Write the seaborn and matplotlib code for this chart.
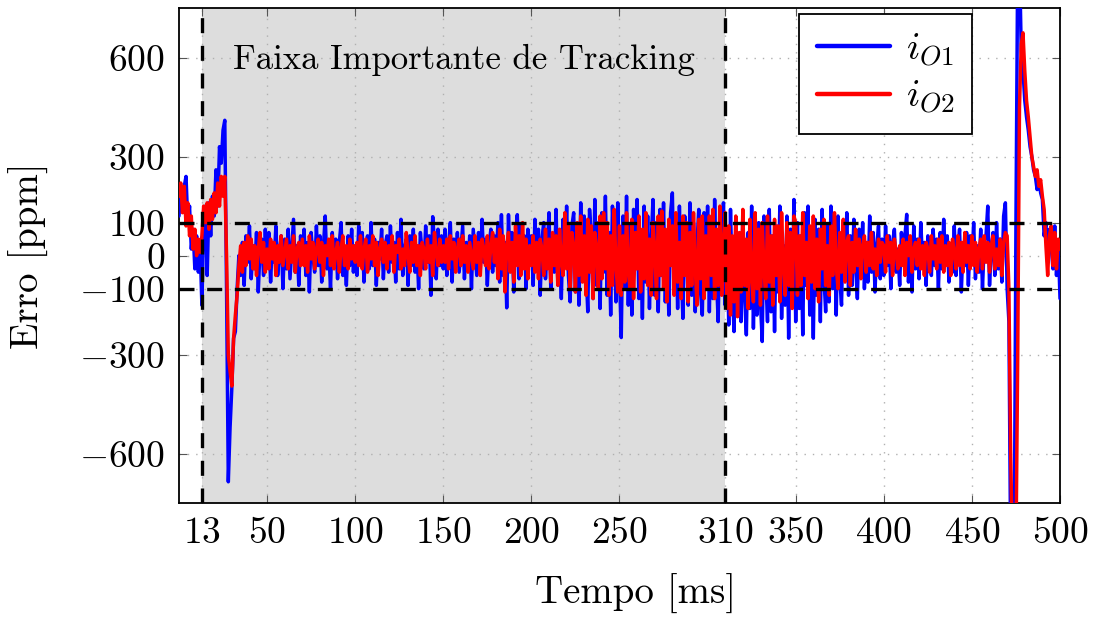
import numpy as np
import pandas as pd
import matplotlib
matplotlib.use("Agg")
import matplotlib.pyplot as plt
import seaborn as sns
from matplotlib.lines import Line2D

sns.set_theme(style="white")
plt.rcParams['font.family'] = ['cmr10', 'Liberation Serif', 'DejaVu Serif']
plt.rcParams['mathtext.fontset'] = 'cm'
plt.rcParams['axes.unicode_minus'] = False
plt.rcParams['axes.formatter.use_mathtext'] = True
for k in ('text.color', 'axes.labelcolor', 'xtick.color', 'ytick.color'):
    plt.rcParams[k] = 'black'

# ---------------- data (error in ppm, one value per ms) ----------------
T_START, T_END = 0, 500

io1_000_049 = [120, 200, 160, 210, 240, 100, 150, 20, 80, -40, 60, -50, 30, -150,
               100, 150, -60, 160, 60, 180, 120, 260, 150, 330, 280, 380, 410, -100,
               -685, -520, -400, -250, -230, -100, 0, -60,
               40, -90, 60, -20, 90, -70, 30, -40, 70, -110, 20, 50, -60, 80]
io1_050_099 = [-30, 70, -80, 40, -20, 90, -60, 10, 60, -100,
               50, -40, 80, -70, 20, 110, -50, 30, -90, 60,
               -20, 80, -60, 40, -110, 70, 0, -50, 90, -30,
               60, -80, 30, 120, -40, 20, -100, 70, -20, 50,
               -70, 40, 100, -60, 10, -90, 60, -30, 80, -50]
io1_100_149 = [30, -60, 90, -20, 70, -80, 20, 60, -40, 100,
               -30, 50, -90, 40, -10, 80, -70, 30, 60, -50,
               90, -20, 40, -80, 70, -40, 110, -60, 20, 50,
               -90, 60, -30, 80, -50, 30, -100, 70, 10, -40,
               90, -20, 60, -120, 118, 40, -70, 80, -30, 60]
io1_150_199 = [-40, 80, -60, 30, 100, -80, 50, -20, 70, -50,
               20, 90, -70, 40, -30, 60, -100, 80, 10, -60,
               70, -40, 110, -20, 50, -90, 30, 80, -50, 60,
               -30, 100, -80, 124, -60, 40, -158, 124, -40, 70,
               -110, 50, 124, -70, 90, -30, 60, -100, 80, -20]
io1_200_249 = [60, -90, 110, -40, 80, -120, 50, 100, -70, 20,
               130, -100, 60, -50, 140, -80, 30, -130, 110, -20,
               150, -60, -140, 90, 130, -110, 40, -150, 160, -70,
               120, -40, -170, 140, 60, -130, 170, -90, 100, -160,
               130, -50, 180, -120, 70, -180, 150, 20, -140, 160]
io1_250_299 = [-60, -248, 120, -100, 180, -150, 90, -180, 140, -40,
               170, -130, 60, -190, 150, -80, 120, -160, 40, 170,
               -120, 100, -170, 140, -60, 160, -140, 30, -180, 130,
               190, -100, 80, -160, 150, -40, -190, 120, 60, -150,
               160, -120, 100, -170, 40, 140, -110, -180, 130, -60]
io1_300_349 = [150, -170, 90, -130, 170, -60, -200, 120, -90, 160,
               -150, 60, -210, 140, -80, -230, 110, -170, 40, -200,
               130, -120, -240, 70, -160, 150, -220, 20, -180, 100,
               -140, -260, 120, -60, -200, 140, -170, 60, -230, 90,
               -110, 150, -190, 30, -150, 120, -250, 80, -130, 170]
io1_350_399 = [-200, 100, -160, 60, -240, 130, -90, 150, -180, 40,
               -250, 110, -120, 80, -200, 140, -60, -170, 90, -140,
               150, -100, 60, -180, 120, -70, -150, 100, -40, 130,
               -120, 60, -90, 110, -30, -130, 80, -60, 100, -100,
               40, -80, 120, -50, 70, -110, 30, 90, -70, 50]
io1_400_449 = [-60, 90, -30, 60, -100, 40, 80, -50, 20, -90,
               70, -20, 60, 125, -80, 30, -110, 90, -40, 50,
               -70, 100, -20, 40, -90, 60, 10, -60, 80, -30,
               50, -100, 70, -40, 110, -20, 60, -80, 30, -50,
               90, -60, 20, 80, -110, 40, -30, 70, -90, 60]
io1_450_500 = [-20, 100, -70, 30, -50, 80, -100, 40, 60, 150,
               -90, 20, 70, -60, 100, -40, 50, -80, 120, 160,
               -100, -200, -900, -900, -900, 100, 900, 900, 620, 560,
               470, 420, 380, 330, 300, 260, 240, 200, 230, 190,
               170, 60, 100, -20, 80, 30, -40, 90, -60, 40, -130]

io2_000_049 = [180, 220, 130, 210, 90, 160, 60, 120, 20, 80, 0, 50, 10, 60,
               150, 100, 160, 80, 170, 110, 190, 130, 220, 150, 240, 180, 240, 0,
               -300, -350, -395, -250, -180, -120, -30, 30,
               -50, 40, -30, 60, -10, 50, -40, 30, -60, 20, 70, -20, 40, -50]
io2_050_099 = [20, -40, 50, -10, 40, -60, 30, -20, 60, -30,
               10, 50, -40, 30, -20, 60, -50, 20, 40, -30,
               50, -30, 30, -50, 60, -10, 40, -40, 20, 50,
               -20, 40, -60, 30, 0, 50, -30, 60, -40, 10,
               40, -50, 20, 60, -30, 30, -40, 50, -10, 30]
io2_100_149 = [-20, 40, -30, 60, -40, 20, 50, -50, 30, -10,
               60, -30, 40, -60, 20, 50, -20, 40, -40, 30,
               -10, 60, -50, 30, 10, 50, -40, 20, -30, 70,
               0, -50, 40, -20, 60, -30, 30, -60, 40, 20,
               -40, 50, -20, 30, -60, 70, 10, -30, 50, -20]
io2_150_199 = [30, -20, 50, -40, 60, -10, 40, -50, 20, 50,
               -30, 60, -20, 30, -50, 40, 0, -40, 60, -20,
               40, -60, 50, 20, -30, 60, -40, 30, 70, -20,
               50, -70, 80, -40, 60, -110, 30, 70, -50, 40,
               -80, 90, -30, 60, -60, 100, -40, 50, -70, 30]
io2_200_249 = [-30, 60, -50, 40, -70, 50, 20, -60, 80, -40,
               50, -80, 70, -30, 60, -90, 80, -20, -60, 130,
               -40, 90, -100, 70, 30, -110, 100, -60, 120, -80,
               60, -120, 110, -50, 90, -130, 70, 20, -100, 120,
               -70, 130, -40, 100, -120, 60, -90, 140, -30, -110]
io2_250_299 = [90, -120, 60, -80, 130, -50, -100, 110, -130, 70,
               -40, 120, -110, 80, -70, 130, -90, 50, -120, 100,
               20, -130, 120, -60, 135, -100, 80, -140, 110, -30,
               90, -120, 130, -80, 40, -130, 120, -60, 100, -140,
               70, -90, 130, -40, -150, 110, -70, 120, -130, 60]
io2_300_349 = [-100, 120, -60, 140, -130, 80, -90, 150, -120, 40,
               130, -160, 90, -180, 60, -140, 120, -185, 70, -110,
               140, -90, 50, -160, 110, -60, -140, 130, -100, 80,
               -150, 100, -40, -130, 120, -80, 60, -150, 110, -60,
               90, -140, 130, -30, -120, 100, -90, 70, -160, 120]
io2_350_399 = [100, -120, 60, -90, 130, -60, 40, -130, 90, -80,
               120, -100, 50, -140, 80, -40, 110, -90, 30, -120,
               90, -60, 130, -30, -100, 70, -50, 110, -80, 40,
               60, -90, 40, -50, 80, -30, 50, -70, 30, 60,
               -50, 40, -30, 70, -40, 20, -60, 50, -20, 40]
io2_400_449 = [30, -50, 60, -20, 40, -60, 50, 10, -40, 30,
               -30, 50, -60, 40, 0, 60, -50, 20, 40, -30,
               50, -40, 30, -60, 40, 20, -50, 60, -10, 30,
               -40, 50, -20, 60, -50, 30, -30, 40, -60, 50,
               10, -40, 60, -30, 40, -50, 70, -20, 30, -40]
io2_450_500 = [60, -30, 40, -50, 20, 50, -40, 60, -20, 40,
               -50, 30, 60, -40, 20, -30, 50, -60, 40, 70,
               60, -100, -600, -900, -900, -900, -300, 450, 640, 675,
               560, 470, 420, 360, 300, 270, 240, 260, 210, 230,
               180, 140, 30, -60, 60, 90, -30, 70, -40, 50, 20]

X_TICKS = [13, 50, 100, 150, 200, 250, 310, 350, 400, 450, 500]
Y_TICKS = [-600, -300, -100, 0, 100, 300, 600]
Y_TICK_LABELS = [r"$-600$", r"$-300$", r"$-100$", r"$0$", r"$100$", r"$300$", r"$600$"]
BAND_START, BAND_END = 13, 310
LIMIT = 100

time_ms = np.arange(T_START, T_END + 1)
io1 = np.array(io1_000_049 + io1_050_099 + io1_100_149 + io1_150_199 + io1_200_249
               + io1_250_299 + io1_300_349 + io1_350_399 + io1_400_449 + io1_450_500, dtype=float)
io2 = np.array(io2_000_049 + io2_050_099 + io2_100_149 + io2_150_199 + io2_200_249
               + io2_250_299 + io2_300_349 + io2_350_399 + io2_400_449 + io2_450_500, dtype=float)

df = pd.DataFrame({"t": time_ms, "io1": io1, "io2": io2})

# ---------------- figure ----------------
fig = plt.figure(figsize=(10.98, 6.19), dpi=100)
ax = fig.add_axes([0.163, 0.187, 0.8024, 0.800])

FS = 27
BLUE = "#0000ff"
RED = "#ff0000"

ax.axvspan(BAND_START, BAND_END, color="#dddddd", zorder=0.2, lw=0)

sns.lineplot(data=df, x="t", y="io1", ax=ax, color=BLUE, lw=2.5,
             estimator=None, sort=False, zorder=3)
sns.lineplot(data=df, x="t", y="io2", ax=ax, color=RED, lw=2.5,
             estimator=None, sort=False, zorder=4)

dash = (0, (4.5, 3.8))
for yv in (LIMIT, -LIMIT):
    ax.axhline(yv, color="black", lw=2.4, ls=dash, zorder=5)
for xv in (BAND_START, BAND_END):
    ax.axvline(xv, color="black", lw=2.4, ls=dash, zorder=5)

ax.text((BAND_START + BAND_END) / 2, 564, "Faixa Importante de Tracking",
        ha="center", va="baseline", fontsize=FS - 2, zorder=6)

ax.set_xlim(T_START, T_END)
ax.set_ylim(-750, 750)
ax.set_xticks(X_TICKS)
ax.set_xticklabels([r"$%d$" % v for v in X_TICKS], fontsize=FS)
ax.set_yticks(Y_TICKS)
ax.set_yticklabels(Y_TICK_LABELS, fontsize=FS)
ax.tick_params(direction="in", length=6, width=0.8, color="#555555",
               top=True, right=True, bottom=True, left=True, pad=10)

ax.grid(True, which="major", color="#b0b0b0", ls=(0, (1, 5)), lw=1.0)
ax.set_axisbelow(True)
for s in ax.spines.values():
    s.set_color("black")
    s.set_linewidth(1.3)

ax.set_xlabel("Tempo [ms]", fontsize=FS + 1)
ax.set_ylabel("Erro [ppm]", fontsize=FS + 1)
ax.yaxis.set_label_coords(-0.148, 0.5)
ax.xaxis.set_label_coords(0.518, -0.143)

handles = [Line2D([0], [0], color=BLUE, lw=3.2), Line2D([0], [0], color=RED, lw=3.2)]
leg = ax.legend(handles, [r"$i_{O1}$", r"$i_{O2}$"], loc="upper right",
                bbox_to_anchor=(0.900, 0.988), borderaxespad=0, fontsize=FS + 1,
                frameon=True, fancybox=False, edgecolor="black", framealpha=1,
                handlelength=1.9, borderpad=0.45, labelspacing=0.25,
                handletextpad=0.4)
leg.get_frame().set_linewidth(1.3)
leg.set_zorder(10)

fig.savefig("out.png", dpi=100)
